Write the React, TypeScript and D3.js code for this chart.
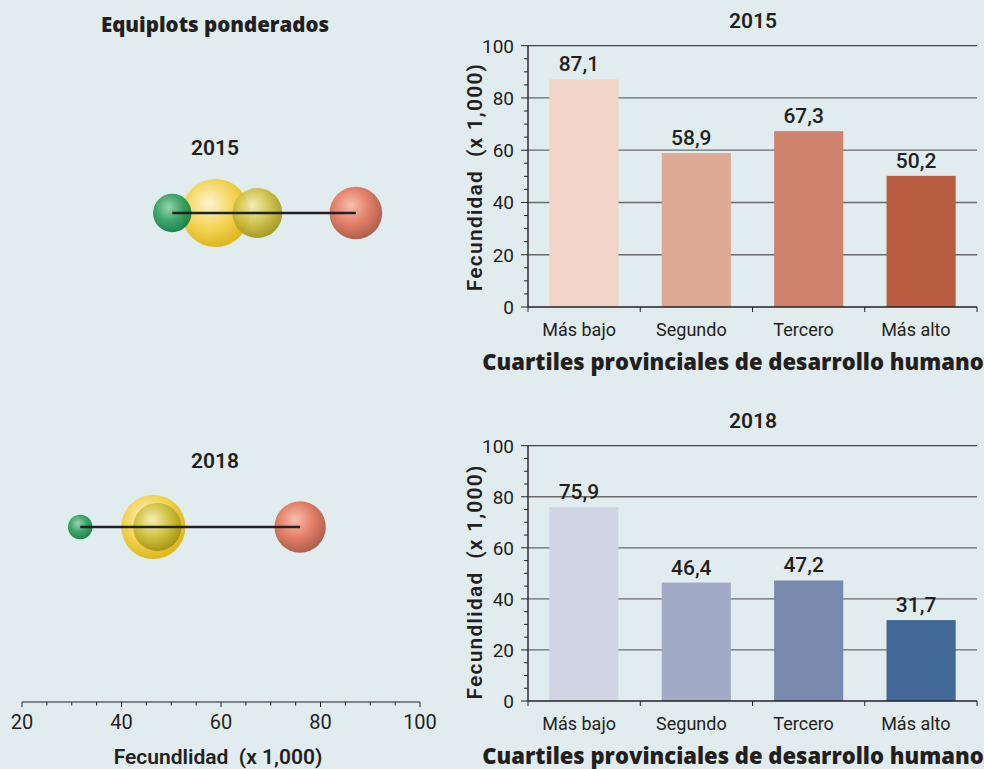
import React from "react";
import * as d3 from "d3";

const categories = ["Más bajo", "Segundo", "Tercero", "Más alto"];
const values2015 = [87.1, 58.9, 67.3, 50.2];
const values2018 = [75.9, 46.4, 47.2, 31.7];
// relative population weights (bubble area) read from the equiplots
const weights2015 = [60, 100, 54, 32];
const weights2018 = [57, 89, 50, 13];
const yTicks = [0, 20, 40, 60, 80, 100];
const yMinorTicks = d3.range(0, 101, 5);
const eqTicks = [20, 40, 60, 80, 100];
const eqMinorTicks = d3.range(20, 101, 5);
const barColors2015 = ["#f0d5c8", "#dea994", "#cf826c", "#b85c42"];
const barColors2018 = ["#d0d5e3", "#a2abc6", "#7a8aae", "#436796"];
const bubbleGrad = [
  { id: "gRed", light: "#f7bba6", base: "#e4735a", dark: "#a9503b" },
  { id: "gYel", light: "#fff6d0", base: "#f6d34a", dark: "#deb208" },
  { id: "gOli", light: "#f3eeb4", base: "#cec040", dark: "#a09312" },
  { id: "gGrn", light: "#93cfa8", base: "#2c9e5c", dark: "#0a7a3d" },
];

const BG = "#e1ecee";
const NARROW = "'Liberation Sans Narrow', 'Roboto', sans-serif";
const SANS = "'Roboto', 'Liberation Sans', sans-serif";
const HEAVY = "'Open Sans', 'Liberation Sans', sans-serif";
const TXT = "#231f20";
const PRE = { whiteSpace: "pre" } as React.CSSProperties;

const W = 984;
const H = 769;

function Equiplot({ values, weights, cy, title, titleY }) {
  const x = d3.scaleLinear().domain([20, 100]).range([22, 420]);
  const r = d3.scaleSqrt().domain([0, 100]).range([0, 34]);
  const idx = d3.range(values.length).sort((a, b) => weights[b] - weights[a]);
  const ext = d3.extent(values);
  return (
    <g>
      <text x={215} y={titleY} textAnchor="middle" fontFamily={SANS} fontSize={21} fontWeight={600} fill={TXT}>
        {title}
      </text>
      {idx.map((i) => (
        <circle
          key={i}
          cx={x(values[i])}
          cy={cy}
          r={r(weights[i])}
          fill={`url(#${bubbleGrad[i].id})`}
          opacity={0.9}
        />
      ))}
      <line x1={x(ext[0])} x2={x(ext[1])} y1={cy} y2={cy} stroke="#222" strokeWidth={2.5} />
    </g>
  );
}

function EqAxis() {
  const x = d3.scaleLinear().domain([20, 100]).range([22, 420]);
  const y = 702;
  return (
    <g>
      <line x1={x(20)} x2={x(100)} y1={y} y2={y} stroke="#222" strokeWidth={1.2} />
      {eqMinorTicks.map((t) => (
        <line key={t} x1={x(t)} x2={x(t)} y1={y} y2={y + (t % 20 === 0 ? 5 : 3.5)} stroke="#222" strokeWidth={1} />
      ))}
      {eqTicks.map((t) => (
        <text key={t} x={x(t)} y={y + 27} textAnchor="middle" fontFamily={SANS} fontSize={20} fill={TXT}>
          {t}
        </text>
      ))}
      <text x={218} y={764} textAnchor="middle" fontFamily={SANS} fontSize={21} fontWeight={600} fill={TXT} style={PRE}>
        Fecundlidad  (x 1,000)
      </text>
    </g>
  );
}

function BarChart({ values, colors, y0, y100, title, yTitle, yTitleCy }) {
  const x = d3.scaleBand().domain(categories).range([528, 977]).paddingInner(0.385).paddingOuter(0.19);
  const xb = d3.scaleBand().domain(categories).range([528, 977]);
  const y = d3.scaleLinear().domain([0, 100]).range([y0, y100]);
  const bounds = categories.map((c) => xb(c)).concat([977]);
  return (
    <g>
      <text x={753} y={y100 - 18} textAnchor="middle" fontFamily={SANS} fontSize={21} fontWeight={600} fill={TXT}>
        {title}
      </text>
      {yTicks.filter((t) => t > 0).map((t) => (
        <line key={t} x1={528} x2={977} y1={y(t)} y2={y(t)} stroke={t === 100 ? "#444" : "#6a6a6a"} strokeWidth={1.3} />
      ))}
      {values.map((v, i) => (
        <rect key={i} x={x(categories[i])} y={y(v)} width={x.bandwidth()} height={y(0) - y(v)} fill={colors[i]} />
      ))}
      {values.map((v, i) => (
        <text
          key={i}
          x={x(categories[i]) + x.bandwidth() / 2 - 5}
          y={y(v) - 8}
          textAnchor="middle"
          fontFamily={SANS}
          fontSize={21}
          fontWeight={500}
          fill={TXT}
        >
          {d3.format(".1f")(v).replace(".", ",")}
        </text>
      ))}
      <line x1={528} x2={528} y1={y(0)} y2={y(100)} stroke="#222" strokeWidth={1.4} />
      <line x1={528} x2={977} y1={y(0)} y2={y(0)} stroke="#222" strokeWidth={1.4} />
      {yMinorTicks.map((t) => (
        <line key={t} x1={528 - (t % 20 === 0 ? 7 : 4)} x2={528} y1={y(t)} y2={y(t)} stroke="#222" strokeWidth={1} />
      ))}
      {yTicks.map((t) => (
        <text key={t} x={514} y={y(t) + 7} textAnchor="end" fontFamily={SANS} fontSize={19} fill={TXT}>
          {t}
        </text>
      ))}
      {bounds.map((b, i) => (
        <line key={i} x1={b} x2={b} y1={y(0)} y2={y(0) + 5} stroke="#222" strokeWidth={1} />
      ))}
      {categories.map((c) => (
        <text key={c} x={xb(c) + xb.bandwidth() / 2 - 5} y={y(0) + 29} textAnchor="middle" fontFamily={NARROW} fontSize={18} fill={TXT}>
          {c}
        </text>
      ))}
      <text x={733} y={y(0) + 63} textAnchor="middle" fontFamily={HEAVY} fontSize={22} fontWeight={800} fill={TXT}>
        Cuartiles provinciales de desarrollo humano
      </text>
      <text
        transform={`translate(482,${yTitleCy}) rotate(-90)`}
        textAnchor="middle"
        fontFamily={SANS}
        fontSize={21}
        fontWeight={600}
        letterSpacing={1.2}
        fill={TXT}
        style={PRE}
      >
        {yTitle}
      </text>
    </g>
  );
}

export default function App() {
  return (
    <svg width={W} height={H} style={{ position: "absolute", left: 0, top: 0, display: "block" }}>
      <defs>
        {bubbleGrad.map((g) => (
          <radialGradient key={g.id} id={g.id} cx="42%" cy="38%" r="62%" fx="40%" fy="35%">
            <stop offset="0%" stopColor={g.light} />
            <stop offset="55%" stopColor={g.base} />
            <stop offset="100%" stopColor={g.dark} />
          </radialGradient>
        ))}
      </defs>
      <rect x={0} y={0} width={W} height={H} fill={BG} />
      <text x={215} y={32} textAnchor="middle" fontFamily={HEAVY} fontSize={20.5} fontWeight={800} fill={TXT}>
        Equiplots ponderados
      </text>
      <Equiplot values={values2015} weights={weights2015} cy={213} title="2015" titleY={155} />
      <Equiplot values={values2018} weights={weights2018} cy={527} title="2018" titleY={468} />
      <EqAxis />
      <BarChart values={values2015} colors={barColors2015} y0={307} y100={45.7} title="2015" yTitle="Fecundidad  (x 1,000)" yTitleCy={177} />
      <BarChart values={values2018} colors={barColors2018} y0={701} y100={445.7} title="2018" yTitle="Fecundlidad  (x 1,000)" yTitleCy={582} />
    </svg>
  );
}
